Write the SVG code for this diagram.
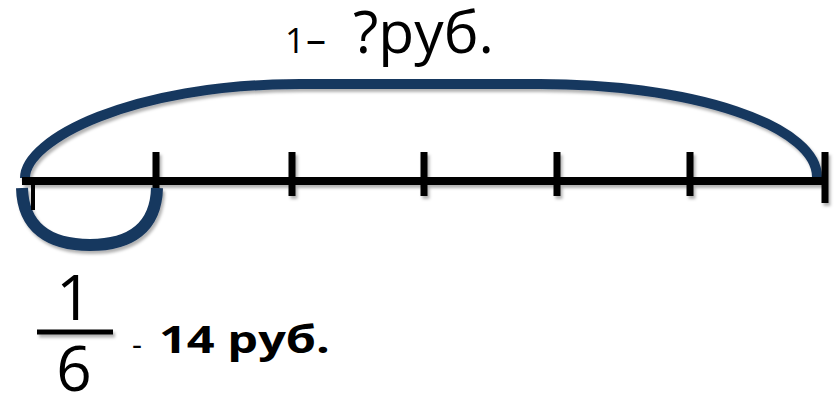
<svg xmlns="http://www.w3.org/2000/svg" width="839" height="394" viewBox="0 0 839 394">
<defs>
<filter id="sh" filterUnits="userSpaceOnUse" x="0" y="0" width="839" height="394">
<feDropShadow dx="2" dy="3" stdDeviation="1.5" flood-color="#000" flood-opacity="0.3"/>
</filter>
</defs>
<style>
.arc{fill:none;stroke:#17375E;stroke-linecap:butt}
.ln{stroke:#000;fill:none}
.t{font-family:"Open Sans","Liberation Sans",sans-serif;fill:#000}
</style>
<rect width="839" height="394" fill="#fff"/>
<g id="connectors">
<path id="whole-arc" class="arc" stroke-width="10" filter="url(#sh)" d="M 25 178 C 25 140, 130 84, 300 84 L 540 84 A 277 93 0 0 1 817 177"/>
</g>
<g id="number-line" filter="url(#sh)">
<line class="ln" x1="22" y1="181" x2="825" y2="181" stroke-width="8"/>
<line class="ln" x1="156" y1="152" x2="156" y2="196" stroke-width="7"/>
<line class="ln" x1="292" y1="152" x2="292" y2="196" stroke-width="7"/>
<line class="ln" x1="424" y1="152" x2="424" y2="196" stroke-width="7"/>
<line class="ln" x1="557" y1="152" x2="557" y2="196" stroke-width="7"/>
<line class="ln" x1="690" y1="152" x2="690" y2="196" stroke-width="7"/>
<line class="ln" x1="825" y1="152" x2="825" y2="203" stroke-width="7"/>
</g>
<g id="part-arc">
<path class="arc" stroke-width="12" filter="url(#sh)" d="M 22 188 C 23 228, 50 245, 90 245 C 130 245, 156 228, 157 188"/>
<line class="ln" x1="33" y1="178" x2="33" y2="210" stroke-width="4"/>
</g>
<g id="label-whole">
<text class="t" x="285" y="53" font-size="35">1</text>
<text class="t" x="306" y="53" font-size="40">–</text>
<text class="t" x="353" y="53" font-size="58" textLength="141" lengthAdjust="spacingAndGlyphs">?руб.</text>
</g>
<g id="label-part">
<text class="t" x="74" y="320" font-size="63" text-anchor="middle">1</text>
<line x1="37" y1="332" x2="113" y2="332" stroke="#000" stroke-width="5" filter="url(#sh)"/>
<text class="t" x="74" y="391" font-size="62" text-anchor="middle">6</text>
<text class="t" x="132" y="355" font-size="31">-</text>
<text class="t" x="159" y="353" font-size="38" font-weight="bold" textLength="171" lengthAdjust="spacingAndGlyphs">14 руб.</text>
</g>
</svg>
